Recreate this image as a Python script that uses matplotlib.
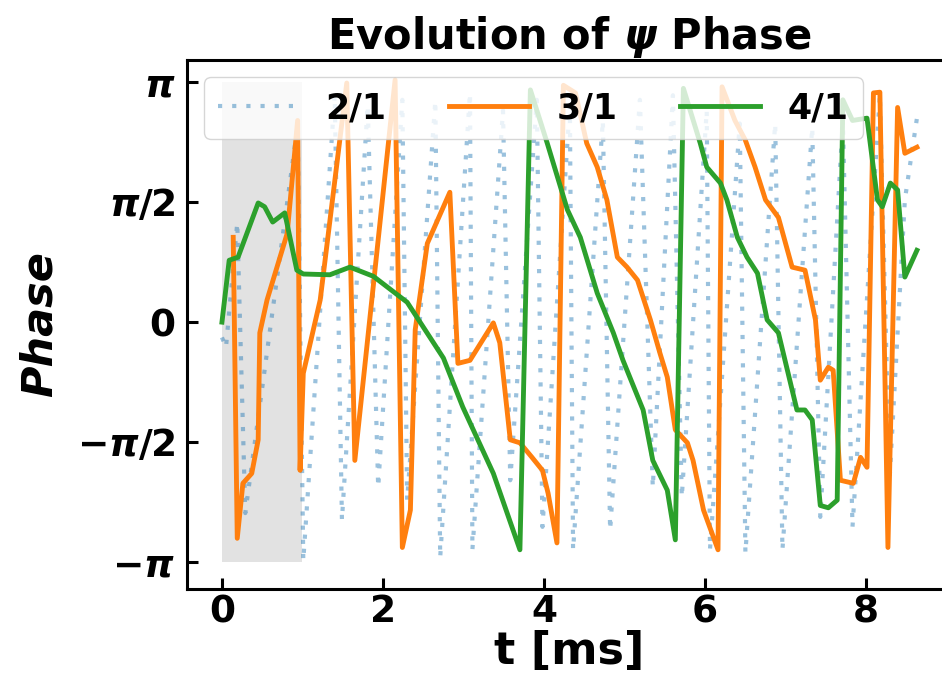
import numpy as np
import matplotlib
matplotlib.use('Agg')
import matplotlib.pyplot as plt

# Phase of each mode vs time (ms).
t21 = [0.00, 0.05, 0.19, 0.29, 0.94, 1.01, 1.40, 1.49, 1.81, 1.94, 2.24, 2.30,
       2.65, 2.71, 3.08, 3.11, 3.49, 3.58, 3.91, 3.98, 4.32, 4.36, 4.73, 4.82,
       5.19, 5.35, 5.60, 5.71, 6.02, 6.06, 6.43, 6.50, 6.87, 6.96, 7.33, 7.43,
       7.71, 7.83, 8.17, 8.29, 8.48, 8.63]
phase21 = [-0.20, -0.33, 1.30, -2.50, 2.58, -3.12, 2.97, -2.59, 2.84, -2.16, 2.91, -2.33,
           2.90, -3.08, 3.00, -2.98, 2.77, -2.07, 2.91, -2.68, 2.84, -2.98, 2.64, -2.72,
           2.91, -2.16, 2.97, -2.29, 2.77, -2.98, 2.60, -3.02, 2.60, -2.98, 2.55, -2.55,
           2.64, -2.68, 2.97, -2.07, 1.60, 2.67]

t31 = [0.14, 0.19, 0.26, 0.37, 0.45, 0.47, 0.56, 0.81, 0.94, 0.97, 1.01, 1.22,
       1.55, 1.65, 2.15, 2.24, 2.34, 2.40, 2.55, 2.83, 2.93, 3.08, 3.37, 3.45,
       3.58, 3.70, 3.85, 3.98, 4.05, 4.16, 4.24, 4.39, 4.53, 4.66, 4.78, 4.91,
       5.03, 5.16, 5.32, 5.44, 5.53, 5.63, 5.78, 5.85, 5.98, 6.16, 6.21, 6.37,
       6.50, 6.62, 6.75, 6.91, 7.08, 7.24, 7.37, 7.43, 7.53, 7.59, 7.68, 7.84,
       7.93, 8.01, 8.09, 8.17, 8.27, 8.39, 8.48, 8.63]
phase31 = [1.11, -2.83, -2.11, -1.98, -1.54, -0.14, 0.29, 1.16, 2.64, -1.94, -0.67, 0.29,
           3.13, -1.81, 3.17, -2.95, -2.46, -0.10, 1.03, 1.70, -0.54, -0.50, -0.01, -0.27,
           -1.54, -1.58, -1.77, -1.94, -2.24, -2.89, 3.10, 3.00, 2.34, 2.03, 1.60, 0.85,
           0.72, 0.55, 0.03, -0.41, -0.72, -1.41, -1.58, -1.81, -2.46, -2.98, 3.08, 2.64,
           2.38, 2.03, 1.60, 1.37, 0.72, 0.68, 0.03, -0.76, -0.59, -0.63, -2.07, -2.11,
           -1.77, -1.90, 3.00, 3.01, -2.95, 2.81, 2.21, 2.29]

t41 = [0.00, 0.09, 0.20, 0.45, 0.53, 0.63, 0.78, 0.93, 1.01, 1.34, 1.59, 1.88,
       2.30, 2.75, 2.99, 3.37, 3.70, 3.83, 4.04, 4.29, 4.45, 4.66, 4.86, 4.98,
       5.23, 5.35, 5.53, 5.63, 5.73, 5.94, 6.02, 6.19, 6.27, 6.40, 6.52, 6.65,
       6.77, 6.91, 7.14, 7.24, 7.33, 7.43, 7.53, 7.64, 7.71, 7.83, 8.01, 8.14,
       8.20, 8.30, 8.39, 8.48, 8.63]
phase41 = [0.00, 0.81, 0.85, 1.56, 1.51, 1.31, 1.43, 0.68, 0.63, 0.62, 0.72, 0.60,
           0.26, -0.47, -1.11, -1.98, -2.98, 3.04, 2.34, 1.47, 1.11, 0.38, -0.14, -0.50,
           -1.15, -1.81, -2.20, -2.85, 3.06, 2.34, 2.03, 1.82, 1.60, 1.11, 0.85, 0.64,
           0.03, -0.14, -1.15, -1.15, -1.28, -2.40, -2.43, -2.33, 2.91, 2.64, 2.67, 1.60,
           1.51, 1.82, 1.73, 0.59, 0.94]

shade_window = [0, 1]  # ms
ytick_vals = [-np.pi, -np.pi / 2, 0, np.pi / 2, np.pi]
ytick_labels = [r'$-\pi$', r'$-\pi/2$', '0', r'$\pi/2$', r'$\pi$']
xtick_vals = [0, 2, 4, 6, 8]

plt.rcParams['mathtext.fontset'] = 'custom'
plt.rcParams['mathtext.rm'] = 'DejaVu Sans:bold'
plt.rcParams['mathtext.it'] = 'DejaVu Sans:italic:bold'
plt.rcParams['mathtext.bf'] = 'DejaVu Sans:bold'

fig = plt.figure(figsize=(9.42, 6.83), dpi=100)
ax = fig.add_axes([0.198, 0.138, 0.813, 0.774])

# Shaded window
ax.fill_between(shade_window, -np.pi, np.pi, color='lightgray', alpha=0.65,
                lw=0, zorder=0)

ax.plot(t21, phase21, linestyle=(0, (1, 2.4)), lw=3, color='tab:blue',
        alpha=0.45, label='2/1')
ax.plot(t31, phase31, lw=3.5, color='tab:orange', label='3/1')
ax.plot(t41, phase41, lw=3.5, color='tab:green', label='4/1')

ax.set_xlim(-0.44, 9.07)
ax.set_ylim(-3.49, 3.43)
ax.set_xticks(xtick_vals)
ax.set_xticklabels([str(v) for v in xtick_vals], fontsize=27, fontweight='bold')
ax.set_yticks(ytick_vals)
ax.set_yticklabels(ytick_labels, fontsize=27, fontweight='bold')
ax.tick_params(direction='in', length=8, width=2.2)
ax.tick_params(axis='x', pad=4)
ax.tick_params(axis='y', pad=8)
for s in ax.spines.values():
    s.set_linewidth(2.2)

ax.set_title(r'Evolution of $\psi$ Phase', fontsize=30, fontweight='bold')
ax.set_xlabel('t [ms]', fontsize=32, fontweight='bold', labelpad=0)
ax.set_ylabel('Phase', fontsize=31, fontweight='bold', fontstyle='italic',
              labelpad=12)

ax.legend(loc='upper left', ncol=3, prop={'size': 25, 'weight': 'bold'},
          handlelength=2.3, columnspacing=1.8)

fig.savefig('out.png', dpi=100)
